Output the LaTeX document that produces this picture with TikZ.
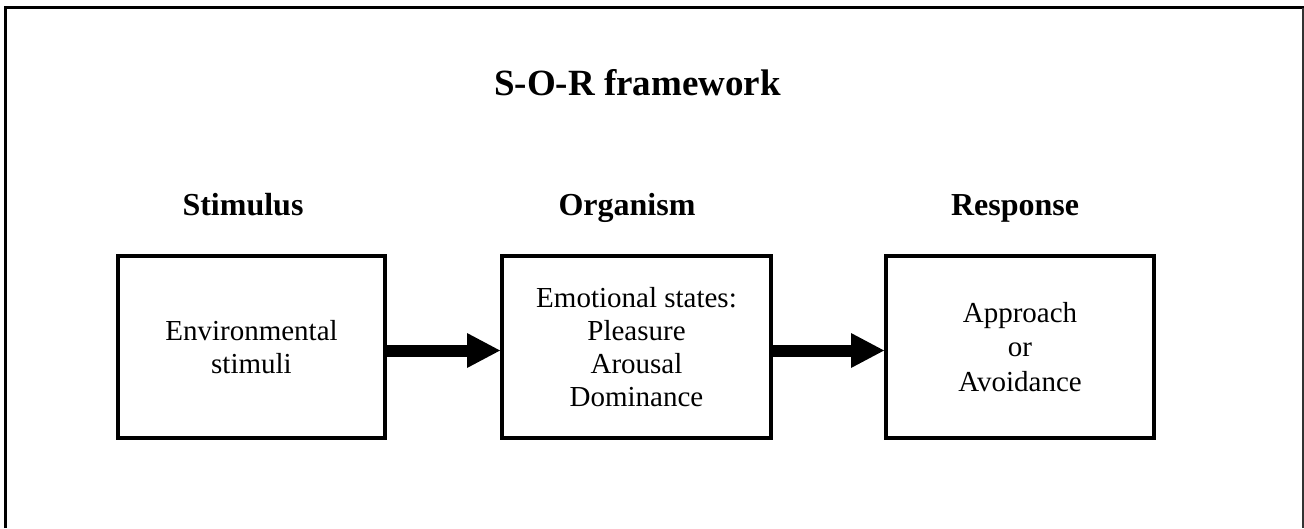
\documentclass[tikz,border=0pt]{standalone}
\usepackage{fontspec}
\setmainfont{Liberation Serif}
\usetikzlibrary{arrows.meta}
\tikzset{
  box/.style={draw, line width=4pt, inner sep=0pt, align=center,
    font=\fontsize{29}{33}\selectfont},
  head/.style={anchor=base, inner sep=0pt, font=\fontsize{32}{38}\selectfont\bfseries},
  bigarrow/.style={line width=12pt,
    -{Triangle[length=33pt 0 0, width=35pt 0 0, line width=0pt 0 0]}},
}
\begin{document}
\begin{tikzpicture}[x=1pt,y=-1pt]
\useasboundingbox (0,0) rectangle (1304,528);
% frame
\draw[line width=3pt] (5.5,528) -- (5.5,7.5) -- (1303.5,7.5);
\draw[line width=1.5pt, black!80] (1303,7.5) -- (1303,528);
% title
\node[anchor=base, inner sep=0pt, font=\fontsize{37}{44}\selectfont\bfseries] (title) at (637.5,95) {S-O-R framework};
% headers
\node[head] (hs) at (243,215) {Stimulus};
\node[head] (ho) at (627,215) {Organism};
\node[head] (hr) at (1015,215) {Response};
% boxes
\node[box, minimum width=267pt, minimum height=182pt] (b1) at (251.5,347) {Environmental\\stimuli};
\node[box, minimum width=269pt, minimum height=182pt] (b2) at (636.5,347) {Emotional states:\\Pleasure\\Arousal\\Dominance};
\node[box, minimum width=268pt, minimum height=182pt, font=\fontsize{29}{34.5}\selectfont] (b3) at (1020,347) {Approach\\or\\Avoidance};
% arrows
\draw[bigarrow] ([yshift=-3.5pt]b1.east) -- ([yshift=-3.5pt]b2.west);
\draw[bigarrow] ([yshift=-3.5pt]b2.east) -- ([yshift=-3.5pt]b3.west);
\end{tikzpicture}
\end{document}
